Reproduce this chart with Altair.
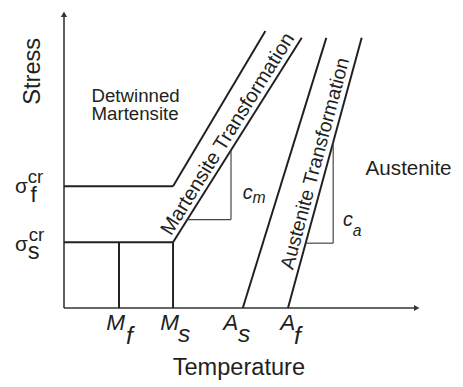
import altair as alt
import pandas as pd

# ---- schematic data (plot units: x = temperature, y = stress) ----
temp_names = ["Mf", "Ms", "As", "Af"]
temp_values = [56, 111, 182, 228]
stress_names = ["sigma_s_cr", "sigma_f_cr"]
stress_values = [67, 124]
# upper ends of the transformation boundaries
upper_m_top = [205, 282]
lower_m_top = [242, 275]
as_top = [267, 275]
af_top = [303, 275]
# slope-triangle corners (c_m, c_a)
cm_corner = [170, 90]
ca_corner = [274, 66]
# axis extents
axis_x_end = 358
axis_y_end = 298

Mf, Ms, As, Af = temp_values
ss, sf = stress_values


def x_at(p0, p1, y):
    return p0[0] + (y - p0[1]) * (p1[0] - p0[0]) / (p1[1] - p0[1])


def y_at(p0, p1, x):
    return p0[1] + (x - p0[0]) * (p1[1] - p0[1]) / (p1[0] - p0[0])


lower_start = (Ms, ss)
af_start = (Af, 0)

thick = pd.DataFrame([
    dict(x=0, y=sf, x2=Ms, y2=sf),
    dict(x=Ms, y=sf, x2=upper_m_top[0], y2=upper_m_top[1]),
    dict(x=0, y=ss, x2=Ms, y2=ss),
    dict(x=Ms, y=ss, x2=lower_m_top[0], y2=lower_m_top[1]),
    dict(x=Mf, y=0, x2=Mf, y2=ss),
    dict(x=Ms, y=0, x2=Ms, y2=ss),
    dict(x=As, y=0, x2=as_top[0], y2=as_top[1]),
    dict(x=Af, y=0, x2=af_top[0], y2=af_top[1]),
])

thin = pd.DataFrame([
    dict(x=cm_corner[0], y=cm_corner[1], x2=cm_corner[0],
         y2=y_at(lower_start, lower_m_top, cm_corner[0])),
    dict(x=x_at(lower_start, lower_m_top, cm_corner[1]), y=cm_corner[1],
         x2=cm_corner[0], y2=cm_corner[1]),
    dict(x=ca_corner[0], y=ca_corner[1], x2=ca_corner[0],
         y2=y_at(af_start, af_top, ca_corner[0])),
    dict(x=x_at(af_start, af_top, ca_corner[1]), y=ca_corner[1],
         x2=ca_corner[0], y2=ca_corner[1]),
])

axes = pd.DataFrame([
    dict(x=0, y=0, x2=0, y2=axis_y_end),
    dict(x=0, y=0, x2=axis_x_end, y2=0),
])

X = alt.X("x:Q", scale=alt.Scale(domain=[0, 398], nice=False, zero=False), axis=None)
Y = alt.Y("y:Q", scale=alt.Scale(domain=[0, 302], nice=False, zero=False), axis=None)

INK = "#231f20"


def rules(df, width, color):
    return alt.Chart(df).mark_rule(color=color, strokeWidth=width).encode(
        x=X, y=Y, x2="x2:Q", y2="y2:Q")


up_arrow = alt.Chart(pd.DataFrame([dict(x=0, y=axis_y_end + 1)])).mark_point(
    shape="triangle-up", filled=True, size=40, color="#333333", opacity=1
).encode(x=X, y=Y)
right_arrow = alt.Chart(pd.DataFrame([dict(x=axis_x_end + 1, y=0)])).mark_point(
    shape="triangle-right", filled=True, size=40, color="#333333", opacity=1
).encode(x=X, y=Y)

# ---- text labels ----
# (text, x, y, font size, angle, italic, align, baseline)
labels = [
    ("Stress", -31, 241, 24, 270, False, "center", "middle"),
    ("Temperature", 178, -68, 24, 0, False, "center", "alphabetic"),
    ("Detwinned", 28, 210, 19, 0, False, "left", "alphabetic"),
    ("Martensite", 28, 191, 19, 0, False, "left", "alphabetic"),
    ("Austenite", 307, 135, 21, 0, False, "left", "alphabetic"),
    ("Martensite Transformation", 167, 177, 20.5, 302, False, "center", "middle"),
    ("Austenite Transformation", 256, 147, 20, 285, False, "center", "middle"),
    # sigma labels
    ("σ", -50, 117, 21, 0, False, "left", "alphabetic"),
    ("cr", -37, 127, 19, 0, False, "left", "alphabetic"),
    ("f", -34, 108, 23, 0, False, "left", "alphabetic"),
    ("σ", -50, 58, 21, 0, False, "left", "alphabetic"),
    ("cr", -36, 68, 19, 0, False, "left", "alphabetic"),
    ("s", -37, 50, 24, 0, False, "left", "alphabetic"),
    # temperature labels
    ("M", 43, -22, 23, 0, True, "left", "alphabetic"),
    ("f", 63, -37, 25, 0, True, "left", "alphabetic"),
    ("M", 98, -22, 23, 0, True, "left", "alphabetic"),
    ("s", 116, -35, 25, 0, True, "left", "alphabetic"),
    ("A", 162, -22, 23, 0, True, "left", "alphabetic"),
    ("s", 177, -35, 25, 0, True, "left", "alphabetic"),
    ("A", 220, -22, 23, 0, True, "left", "alphabetic"),
    ("f", 234, -37, 25, 0, True, "left", "alphabetic"),
    # slope labels
    ("c", 182, 111, 20, 0, True, "left", "alphabetic"),
    ("m", 192, 107, 16, 0, True, "left", "alphabetic"),
    ("c", 284, 83, 20, 0, True, "left", "alphabetic"),
    ("a", 294, 73, 16, 0, True, "left", "alphabetic"),
]
lab = pd.DataFrame(labels, columns=["t", "x", "y", "s", "a", "it", "al", "bl"])

text_layers = []
for (it, al, bl), g in lab.groupby(["it", "al", "bl"]):
    text_layers.append(
        alt.Chart(g.drop(columns=["it", "al", "bl"])).mark_text(
            font="Liberation Sans", fontStyle="italic" if it else "normal",
            align=al, baseline=bl, color=INK
        ).encode(
            x=X, y=Y, text="t:N",
            size=alt.Size("s:Q", scale=None),
            angle=alt.Angle("a:Q", scale=None),
        )
    )

chart = alt.layer(
    rules(axes, 1.6, "#333333"),
    up_arrow, right_arrow,
    rules(thick, 2, INK),
    rules(thin, 1.2, "#444444"),
    *text_layers,
).properties(
    width=398, height=302,
    autosize=alt.AutoSizeParams(type="none"),
    padding={"left": 57, "top": 0, "right": 0, "bottom": 76},
).configure_view(stroke=None)

chart.save("out.html", embed_options={"renderer": "svg", "actions": False})
